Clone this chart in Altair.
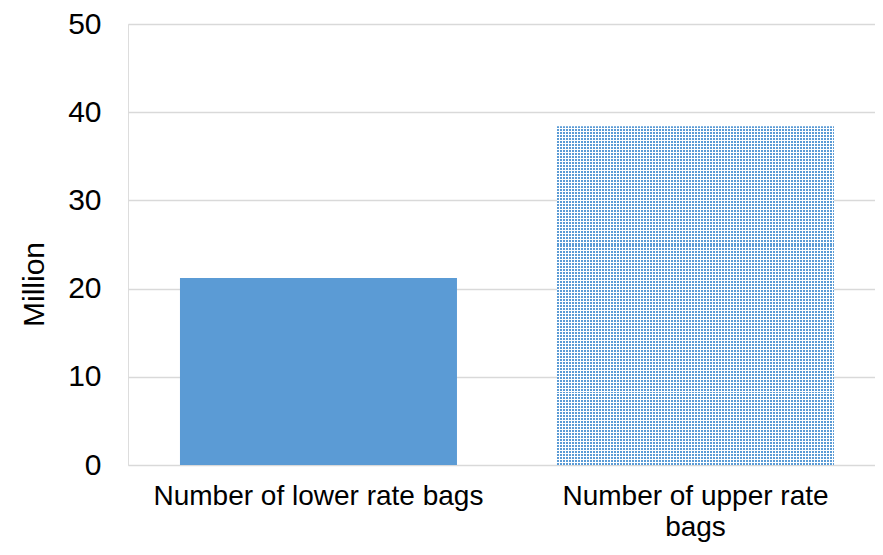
import altair as alt
import pandas as pd

categories = ["Number of lower rate bags", "Number of upper rate bags"]
values = [21.2, 38.4]
wrapped_label = ["Number of upper rate", "bags"]
y_ticks = [0, 10, 20, 30, 40, 50]

df = pd.DataFrame({"category": categories, "value": values})

BLUE = "#5B9BD5"
FONT = "Liberation Sans"
FS = 30
XFS = 28

# stripe gradients to imitate the dotted pattern fill
def stripes(length_px, period, on_px, on_color, off_color):
    stops = []
    p = 0
    while p < length_px:
        a = p / length_px
        b = min(1.0, (p + on_px) / length_px)
        c = min(1.0, (p + period) / length_px)
        stops += [alt.GradientStop(offset=a, color=on_color),
                  alt.GradientStop(offset=b, color=on_color),
                  alt.GradientStop(offset=b, color=off_color),
                  alt.GradientStop(offset=c, color=off_color)]
        p += period
    return stops

vert = alt.LinearGradient(gradient="linear", x1=0, x2=1, y1=0, y2=0,
                          stops=stripes(277, 3, 2, BLUE, "#ffffff"))
horiz = alt.LinearGradient(gradient="linear", x1=0, x2=0, y1=0, y2=1,
                           stops=stripes(341, 3, 2, "rgba(255,255,255,0)", "#ffffff"))

label_expr = ("datum.label == '" + categories[1] + "' ? ['" + wrapped_label[0] + "', '" +
              wrapped_label[1] + "'] : datum.label")

base = alt.Chart(df).encode(
    x=alt.X("category:N", sort=categories,
            scale=alt.Scale(paddingInner=0.2653, paddingOuter=0.1233, align=0.559),
            axis=alt.Axis(title=None, labelAngle=0, labelFontSize=XFS, labelFont=FONT,
                          labelColor="#000000", labelLimit=0, labelOverlap=False,
                          labelPadding=17, labelLineHeight=31, labelBaseline="top",
                          ticks=False, tickSize=0, domain=False, grid=False,
                          labelExpr=label_expr)),
    y=alt.Y("value:Q", scale=alt.Scale(domain=[0, 50], nice=False, zero=True),
            axis=alt.Axis(title="Million", values=y_ticks, grid=True, gridColor="#d9d9d9",
                          gridWidth=1.5, domain=False, ticks=False, tickSize=0,
                          labelFontSize=FS, labelFont=FONT, labelColor="#000000",
                          labelPadding=27, titleFontSize=FS, titleFont=FONT,
                          titleFontWeight="normal", titleColor="#000000",
                          titleAngle=-90, titleX=-85, titleY=260,
                          titleAlign="center", titleBaseline="alphabetic")),
)

lower = base.transform_filter(alt.datum.category == categories[0]).mark_bar(color=BLUE)
upper1 = base.transform_filter(alt.datum.category == categories[1]).mark_bar(fill=vert)
upper2 = base.transform_filter(alt.datum.category == categories[1]).mark_bar(fill=horiz)

chart = alt.layer(lower, upper1, upper2).properties(
    width=747, height=441,
    autosize=alt.AutoSizeParams(type="none"),
    padding={"left": 120, "top": 16, "right": 0, "bottom": 82},
).configure_view(stroke=None).configure(background="white")

chart.save("out.html", embed_options={"renderer": "svg", "actions": False})
